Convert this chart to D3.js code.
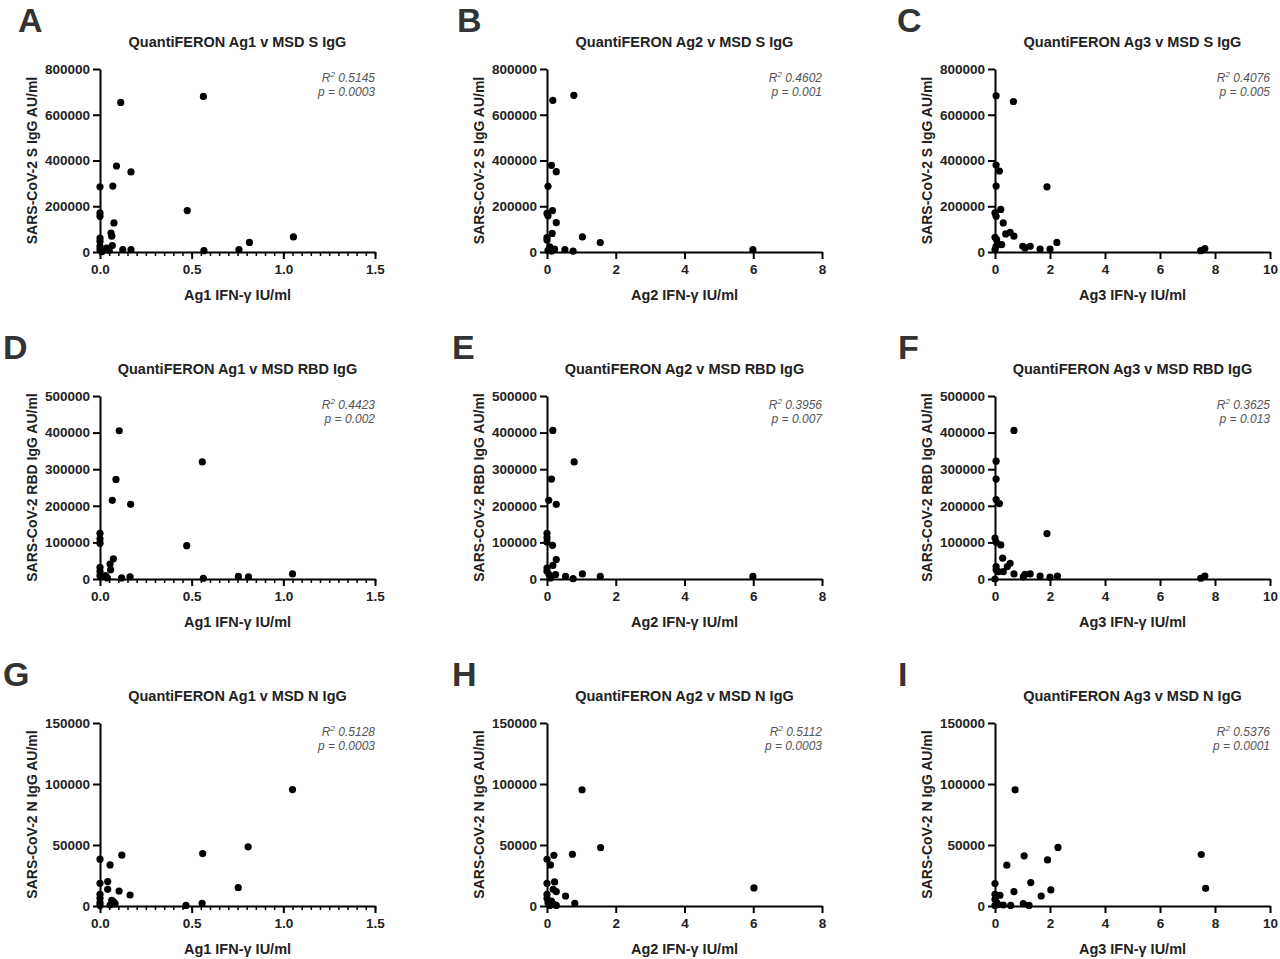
<!DOCTYPE html>
<html>
<head>
<meta charset="utf-8">
<script src="https://cdn.jsdelivr.net/npm/d3@7"></script>
<style>
body { margin: 0; background: #fff; }
svg text { font-family: "Liberation Sans", Arial, sans-serif; }
</style>
</head>
<body>
<div id="chart"></div>
<script>
// panel data: [IFN-gamma IU/ml, IgG AU/ml]
var ag1S = [[0,285000],[0,171000],[0,156000],[0,61000],[0,47000],[0,25000],[0,10000],[0.01,1000],[0.036,17000],[0.05,8000],[0.06,83000],[0.064,69000],[0.07,288000],[0.067,28000],[0.076,127000],[0.09,376000],[0.113,654000],[0.124,10000],[0.169,350000],[0.169,10000],[0.476,181000],[0.564,680000],[0.567,6000],[0.758,10000],[0.815,42000],[1.055,66000]];
var ag2S = [[0.03,287000],[0,169000],[0.03,158000],[0.17,663000],[0.13,379000],[0.27,351000],[0.16,181000],[0.27,128000],[0.15,81000],[0,63000],[0,52000],[0.08,22000],[0.22,13000],[0.03,7000],[0.13,4000],[0.2,10000],[0.52,10000],[0.76,4000],[0.78,685000],[1.03,66000],[1.55,41000],[5.99,10000]];
var ag3S = [[0.04,683000],[0.67,658000],[0.04,380000],[0.16,354000],[0.04,288000],[0.21,186000],[0,171000],[0.04,156000],[0.3,127000],[1.89,285000],[0,64000],[0.06,54000],[0.39,79000],[0.55,86000],[0.69,69000],[0.24,32000],[0.04,25000],[0,10000],[1.01,25000],[1.09,18000],[1.28,25000],[1.64,13000],[2.0,13000],[2.25,42000],[7.48,6000],[7.63,15000]];
var ag1RBD = [[0.105,405000],[0.087,272000],[0.067,215000],[0.167,204000],[0.558,320000],[0.473,91000],[0,125000],[0,110000],[0,98000],[0.073,55000],[0.055,41000],[0.058,25000],[0,32000],[0,21000],[0,9000],[0.03,9000],[0.04,3000],[0.118,3000],[0.164,6000],[0.564,2000],[0.755,7000],[0.81,6000],[1.05,14000]];
var ag2RBD = [[0.17,406000],[0.79,320000],[0.13,273000],[0.05,215000],[0.27,204000],[0,125000],[0,113000],[0,101000],[0.16,92000],[0.27,53000],[0.17,37000],[0,30000],[0,21000],[0.06,12000],[0.25,12000],[0.1,3000],[0.54,7000],[0.76,1000],[1.03,14000],[1.55,7000],[5.99,7000]];
var ag3RBD = [[0.69,406000],[0.04,322000],[0.04,273000],[0.04,217000],[0.16,206000],[1.89,124000],[0,112000],[0.04,101000],[0.21,93000],[0.28,57000],[0.55,43000],[0.45,34000],[0.04,34000],[0.04,25000],[0.12,20000],[0.3,20000],[0,0],[0.69,14000],[1.03,6000],[1.09,13000],[1.28,14000],[1.64,8000],[2.0,5000],[2.27,8000],[7.48,2000],[7.63,8000]];
var ag1N = [[1.05,95400],[0.808,48500],[0.56,43000],[0.119,41700],[0,38400],[0.055,33700],[0,18600],[0.042,20000],[0.042,13700],[0.104,12300],[0.164,9000],[0.754,15000],[0,9600],[0,6300],[0,2700],[0,500],[0.055,800],[0.064,4700],[0.073,3600],[0.082,1900],[0.469,500],[0.557,2200]];
var ag2N = [[1.02,95300],[1.56,47900],[0.74,42400],[0.2,41600],[0,38300],[0.1,33700],[0,18600],[0.22,19700],[0.18,13700],[0.27,11800],[0.54,8200],[6.02,14800],[0.81,2200],[0,9600],[0,6300],[0.03,2700],[0.08,500],[0.13,4100],[0.2,1400],[0.27,500]];
var ag3N = [[0.73,95200],[2.29,48000],[7.5,42200],[1.06,41100],[1.91,37800],[0.43,33500],[1.3,19200],[0,18400],[7.66,14500],[2.03,13200],[0.69,11800],[1.68,8200],[0,9600],[0.18,8800],[0,5500],[0.06,2700],[0.3,800],[0.57,500],[1.03,1900],[1.24,500],[0,500],[0.12,1200]];

var letters = ["A","B","C","D","E","F","G","H","I"];
var agNames = ["Ag1","Ag2","Ag3"];
var abNames = ["S","RBD","N"];
var xMax = [1.5, 8, 10];
var xMajor = [0.5, 2, 2];
var yMax = [800000, 500000, 150000];
var yStep = [200000, 100000, 50000];
var r2 = ["0.5145","0.4602","0.4076","0.4423","0.3956","0.3625","0.5128","0.5112","0.5376"];
var pv = ["0.0003","0.001","0.005","0.002","0.007","0.013","0.0003","0.0003","0.0001"];
var panelData = [ag1S, ag2S, ag3S, ag1RBD, ag2RBD, ag3RBD, ag1N, ag2N, ag3N];

var colX = [100, 547, 995];
var rowY = [69, 396, 723];
var letterX = [[18,457,897],[3,452,898],[3,452,898]];
var pw = 275, ph = 183;

var svg = d3.select("#chart").append("svg")
    .attr("width", 1280)
    .attr("height", 959);

panelData.forEach(function(data, i) {
    var row = Math.floor(i / 3), col = i % 3;
    var g = svg.append("g").attr("transform", "translate(" + colX[col] + "," + rowY[row] + ")");

    var x = d3.scaleLinear().domain([0, xMax[col]]).range([0, pw]);
    var y = d3.scaleLinear().domain([0, yMax[row]]).range([ph, 0]);

    // minor ticks on Ag1 axis
    if (col === 0) {
        g.append("g")
            .attr("transform", "translate(0," + ph + ")")
            .call(d3.axisBottom(x).tickValues(d3.range(0, 1.5001, 0.05)).tickSize(4).tickFormat(""))
            .call(function(a) { a.select(".domain").remove(); a.selectAll("line").attr("stroke-width", 1.5); });
    }
    var xa = g.append("g")
        .attr("transform", "translate(0," + ph + ")")
        .call(d3.axisBottom(x).tickValues(d3.range(0, xMax[col] + 0.001, xMajor[col])).tickSize(7).tickSizeOuter(0)
            .tickFormat(col === 0 ? d3.format(".1f") : d3.format("d")));
    var ya = g.append("g")
        .call(d3.axisLeft(y).tickValues(d3.range(0, yMax[row] + 1, yStep[row])).tickSize(7).tickSizeOuter(0).tickFormat(d3.format("d")));
    [xa, ya].forEach(function(a) {
        a.select(".domain").attr("stroke-width", 2);
        a.selectAll("line").attr("stroke-width", 2);
        a.selectAll("text").attr("font-size", 13.5).attr("font-weight", "bold").attr("fill", "#222");
    });
    xa.selectAll("text").attr("dy", "0.9em");

    g.selectAll("circle.pt")
        .data(data)
        .enter()
        .append("circle")
        .classed("pt", true)
        .attr("cx", function(d) { return x(d[0]); })
        .attr("cy", function(d) { return y(d[1]); })
        .attr("r", 3.6)
        .attr("fill", "#000");

    // labels
    g.append("text")
        .attr("x", pw / 2).attr("y", -22)
        .attr("text-anchor", "middle")
        .attr("font-size", 14.5).attr("font-weight", "bold").attr("fill", "#222")
        .text("QuantiFERON " + agNames[col] + " v MSD " + abNames[row] + " IgG");
    g.append("text")
        .attr("x", pw / 2).attr("y", ph + 48)
        .attr("text-anchor", "middle")
        .attr("font-size", 14.5).attr("font-weight", "bold").attr("fill", "#222")
        .text(agNames[col] + " IFN-\u03b3 IU/ml");
    g.append("text")
        .attr("transform", "translate(-63," + (ph / 2) + ") rotate(-90)")
        .attr("text-anchor", "middle")
        .attr("font-size", 14).attr("font-weight", "bold").attr("fill", "#222")
        .text("SARS-CoV-2 " + abNames[row] + " IgG AU/ml");

    var st = g.append("text")
        .attr("x", pw).attr("y", 13)
        .attr("text-anchor", "end")
        .attr("font-size", 12).attr("font-style", "italic").attr("fill", "#555");
    st.append("tspan").text("R");
    st.append("tspan").attr("font-size", 8).attr("dy", -5).text("2");
    st.append("tspan").attr("dy", 5).text(" " + r2[i]);
    g.append("text")
        .attr("x", pw).attr("y", 27)
        .attr("text-anchor", "end")
        .attr("font-size", 12).attr("font-style", "italic").attr("fill", "#555")
        .text("p = " + pv[i]);

    svg.append("text")
        .attr("x", letterX[row][col]).attr("y", rowY[row] - 37)
        .attr("font-size", 34).attr("font-weight", "bold").attr("fill", "#333")
        .text(letters[i]);
});
</script>
</body>
</html>
